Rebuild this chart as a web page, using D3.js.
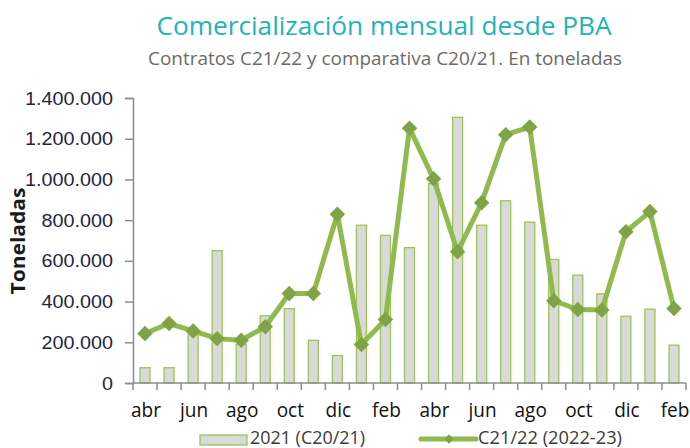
<!DOCTYPE html>
<html>
<head>
<meta charset="utf-8">
<script src="https://cdn.jsdelivr.net/npm/d3@7"></script>
<style>
  body { margin: 0; background: #fff; }
  svg { font-family: "Open Sans", "Noto Sans", sans-serif; }
</style>
</head>
<body>
<div id="chart"></div>
<script>
// months abr 2021 .. feb 2023 (only every 2nd is labelled)
const months = ['abr', 'may', 'jun', 'jul', 'ago', 'sep', 'oct', 'nov', 'dic', 'ene', 'feb', 'mar',
                'abr', 'may', 'jun', 'jul', 'ago', 'sep', 'oct', 'nov', 'dic', 'ene', 'feb']
const bars2021 = [75000, 75000, 240000, 650000, 190000, 330000, 365000, 210000, 135000, 775000, 725000, 665000,
                  980000, 1305000, 775000, 895000, 790000, 607000, 530000, 438000, 328000, 363000, 186000]
const line2122 = [243000, 292000, 256000, 218000, 210000, 276000, 440000, 440000, 829000, 189000, 312000, 1252000,
                  1003000, 645000, 886000, 1220000, 1257000, 404000, 361000, 358000, 743000, 842000, 366000]
const yTicks = [0, 200000, 400000, 600000, 800000, 1000000, 1200000, 1400000]
const legendLabels = ['2021 (C20/21)', 'C21/22 (2022-23)']

const width = 690, height = 448
const margin = { top: 98, right: 4, bottom: 65, left: 133 }

const svg = d3.select('#chart').append('svg')
    .attr('width', width)
    .attr('height', height)

const x = d3.scaleBand()
    .domain(d3.range(months.length))
    .range([margin.left, width - margin.right])

const y = d3.scaleLinear()
    .domain([0, 1400000])
    .range([height - margin.bottom, margin.top])

const fmt = d => d3.format(',')(d).replace(/,/g, '.')

// squeeze/stretch a text node to k times its natural width
const fit = (sel, k) => sel.each(function () {
    const len = this.getComputedTextLength()
    d3.select(this).attr('textLength', len * k).attr('lengthAdjust', 'spacingAndGlyphs')
})

// titles
svg.append('text')
    .attr('x', 384).attr('y', 35)
    .attr('text-anchor', 'middle')
    .attr('fill', '#1fb3b8')
    .style('font-size', '25px')
    .attr('textLength', 455).attr('lengthAdjust', 'spacingAndGlyphs')
    .text('Comercialización mensual desde PBA')

svg.append('text')
    .attr('x', 385).attr('y', 65)
    .attr('text-anchor', 'middle')
    .attr('fill', '#6b6b6b')
    .style('font-size', '19px')
    .attr('textLength', 474).attr('lengthAdjust', 'spacingAndGlyphs')
    .text('Contratos C21/22 y comparativa C20/21. En toneladas')

// y axis
const yAxis = svg.append('g')
    .attr('transform', `translate(${margin.left},0)`)
    .call(d3.axisLeft(y).tickValues(yTicks).tickFormat(fmt).tickSize(8).tickPadding(12))
yAxis.select('.domain').attr('stroke', '#8c8c8c').attr('stroke-width', 1.5)
yAxis.selectAll('.tick line').attr('stroke', '#8c8c8c').attr('stroke-width', 1.5)
yAxis.selectAll('.tick text')
    .attr('fill', '#1f2540')
    .style('font-size', '19px')
    .call(fit, 1.04)

svg.append('text')
    .attr('transform', `translate(25,241) rotate(-90)`)
    .attr('text-anchor', 'middle')
    .attr('fill', '#1a1a1a')
    .style('font-size', '19px')
    .style('font-weight', 'bold')
    .attr('textLength', 107).attr('lengthAdjust', 'spacingAndGlyphs')
    .text('Toneladas')

// bars
const barW = 10
svg.append('g')
    .selectAll('rect')
    .data(bars2021)
    .join('rect')
        .attr('x', (d, i) => x(i) + x.bandwidth() / 2 - barW / 2)
        .attr('y', d => y(d))
        .attr('width', barW)
        .attr('height', d => y(0) - y(d))
        .attr('fill', '#d9d9d9')
        .attr('stroke', '#9cc45a')
        .attr('stroke-width', 1.3)

// x axis, ticks between categories
const xAxisG = svg.append('g')
    .attr('transform', `translate(0,${y(0)})`)
xAxisG.append('line')
    .attr('x1', margin.left).attr('x2', width - margin.right)
    .attr('stroke', '#8c8c8c').attr('stroke-width', 1.5)
xAxisG.selectAll('line.tk')
    .data(d3.range(months.length + 1))
    .join('line')
        .attr('class', 'tk')
        .attr('x1', i => margin.left + i * x.step())
        .attr('x2', i => margin.left + i * x.step())
        .attr('y1', 0).attr('y2', 7)
        .attr('stroke', '#8c8c8c').attr('stroke-width', 1.5)
xAxisG.selectAll('text')
    .data(months.map((m, i) => ({ m, i })).filter(d => d.i % 2 === 0))
    .join('text')
        .attr('x', d => x(d.i) + x.bandwidth() / 2 + 1)
        .attr('y', 34)
        .attr('text-anchor', 'middle')
        .attr('fill', '#111')
        .style('font-size', '20px')
        .text(d => d.m)
        .call(fit, 0.95)

// line series
const lineColor = '#8fba4d'
const markColor = '#7ea445'
const lineGen = d3.line()
    .x((d, i) => x(i) + x.bandwidth() / 2)
    .y(d => y(d))

svg.append('path')
    .datum(line2122)
    .attr('d', lineGen)
    .attr('fill', 'none')
    .attr('stroke', lineColor)
    .attr('stroke-width', 5)
    .attr('stroke-linejoin', 'round')

svg.append('g')
    .selectAll('path')
    .data(line2122)
    .join('path')
        .attr('transform', (d, i) => `translate(${x(i) + x.bandwidth() / 2},${y(d)}) rotate(45)`)
        .attr('d', d3.symbol().type(d3.symbolSquare).size(120))
        .attr('fill', markColor)

// legend (sits at the very bottom edge, like the original)
const lg = svg.append('g')
lg.append('rect')
    .attr('x', 200).attr('y', 435).attr('width', 47).attr('height', 10)
    .attr('fill', '#d9d9d9').attr('stroke', '#9cc45a').attr('stroke-width', 1.3)
lg.append('text')
    .attr('x', 250).attr('y', 444)
    .attr('fill', '#3a3a3a')
    .style('font-size', '18px')
    .attr('textLength', 115).attr('lengthAdjust', 'spacingAndGlyphs')
    .text(legendLabels[0])
lg.append('line')
    .attr('x1', 421).attr('x2', 476).attr('y1', 439).attr('y2', 439)
    .attr('stroke', lineColor).attr('stroke-width', 5).attr('stroke-linecap', 'round')
lg.append('path')
    .attr('transform', 'translate(449,439) rotate(45)')
    .attr('d', d3.symbol().type(d3.symbolSquare).size(45))
    .attr('fill', markColor)
lg.append('text')
    .attr('x', 478).attr('y', 444)
    .attr('fill', '#3a3a3a')
    .style('font-size', '18px')
    .attr('textLength', 144).attr('lengthAdjust', 'spacingAndGlyphs')
    .text(legendLabels[1])
</script>
</body>
</html>
